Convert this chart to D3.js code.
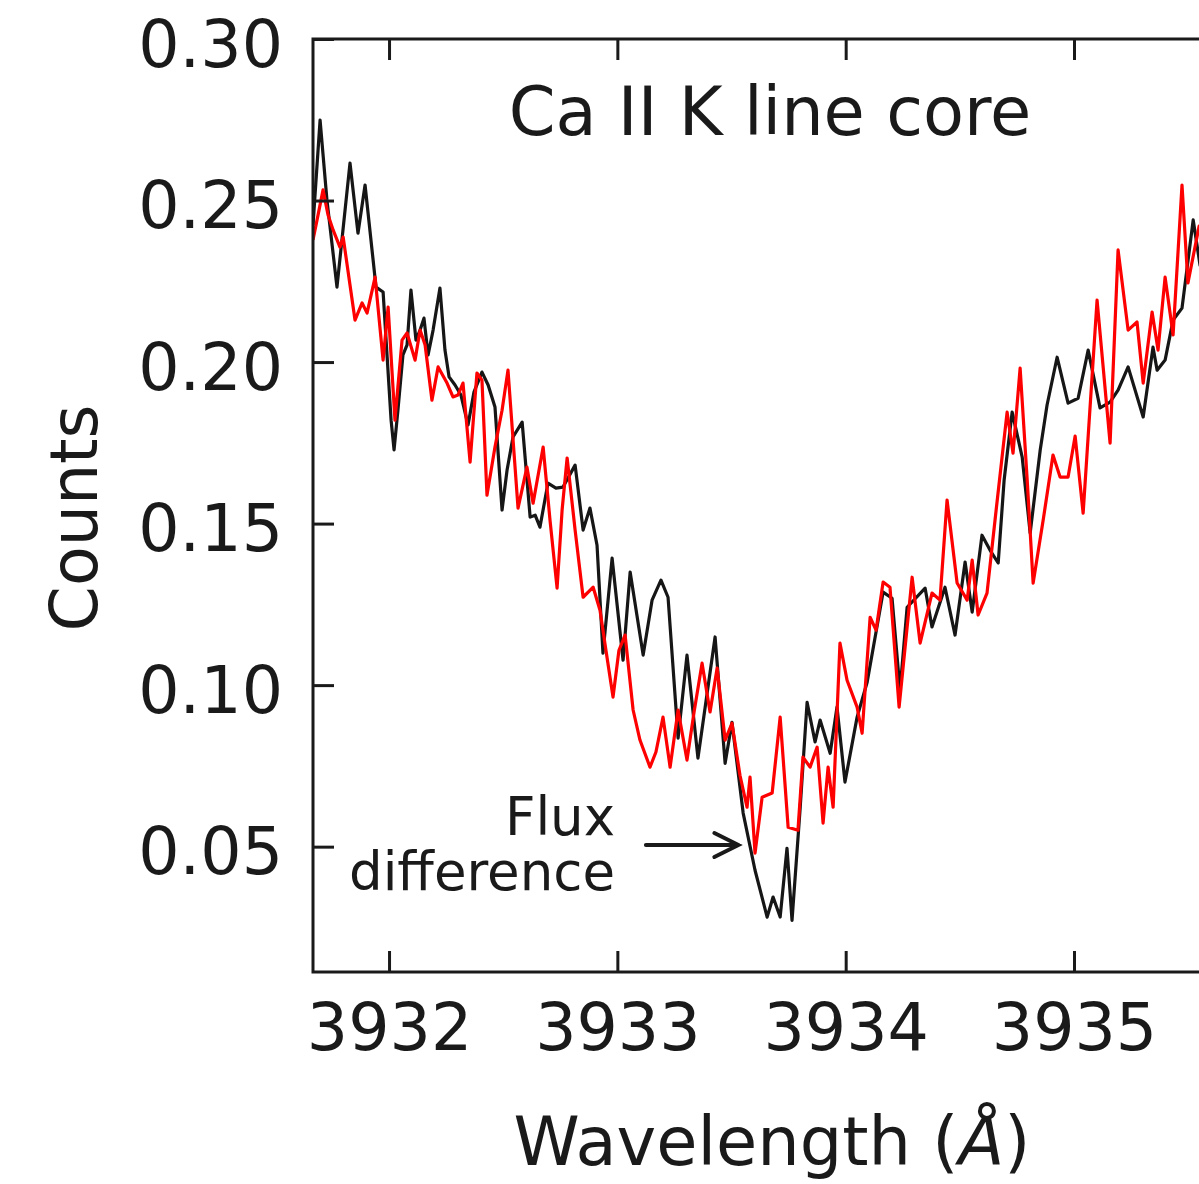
<!DOCTYPE html>
<html>
<head>
<meta charset="utf-8">
<script src="https://cdn.jsdelivr.net/npm/d3@7"></script>
<style>
  body { margin: 0; background: #fff; }
  text { font-family: "DejaVu Sans", sans-serif; fill: #1a1a1a; }
</style>
</head>
<body>
<svg id="chart"></svg>
<script>
// spectra: [wavelength (A), counts]
const blackSpectrum = [
  [3931.667,0.2424],[3931.698,0.2749],[3931.728,0.2502],[3931.772,0.2232],[3931.829,0.2616],[3931.864,0.2399],
  [3931.895,0.2548],[3931.943,0.2232],[3931.974,0.2217],[3932.009,0.1820],[3932.022,0.1728],[3932.039,0.1851],
  [3932.061,0.2022],[3932.079,0.2053],[3932.096,0.2223],[3932.118,0.2068],[3932.136,0.2099],[3932.153,0.2136],
  [3932.171,0.2022],[3932.193,0.2099],[3932.223,0.2229],[3932.245,0.2037],[3932.263,0.1954],[3932.289,0.1929],
  [3932.315,0.1898],[3932.346,0.1805],[3932.372,0.1907],[3932.407,0.1969],[3932.434,0.1929],[3932.464,0.1861],
  [3932.495,0.1542],[3932.517,0.1666],[3932.543,0.1768],[3932.583,0.1814],[3932.618,0.1520],[3932.640,0.1526],
  [3932.661,0.1489],[3932.696,0.1625],[3932.731,0.1610],[3932.762,0.1613],[3932.815,0.1681],[3932.850,0.1480],
  [3932.880,0.1548],[3932.911,0.1433],[3932.937,0.1099],[3932.977,0.1393],[3933.025,0.1077],[3933.056,0.1350],
  [3933.113,0.1093],[3933.152,0.1263],[3933.191,0.1325],[3933.222,0.1272],[3933.266,0.0836],[3933.305,0.1093],
  [3933.353,0.0774],[3933.389,0.0954],[3933.428,0.1149],[3933.472,0.0758],[3933.502,0.0885],[3933.551,0.0604],
  [3933.603,0.0427],[3933.656,0.0282],[3933.682,0.0344],[3933.713,0.0282],[3933.743,0.0495],[3933.765,0.0272],
  [3933.800,0.0613],[3933.831,0.0947],[3933.866,0.0824],[3933.888,0.0892],[3933.932,0.0789],[3933.962,0.0932],
  [3933.997,0.0700],[3934.050,0.0901],[3934.094,0.1009],[3934.164,0.1288],[3934.203,0.1269],[3934.238,0.0984],
  [3934.269,0.1241],[3934.348,0.1300],[3934.378,0.1180],[3934.435,0.1303],[3934.479,0.1155],[3934.523,0.1381],
  [3934.554,0.1226],[3934.597,0.1464],[3934.632,0.1418],[3934.668,0.1378],[3934.694,0.1635],[3934.729,0.1845],
  [3934.773,0.1706],[3934.808,0.1471],[3934.852,0.1728],[3934.882,0.1867],[3934.926,0.2015],[3934.974,0.1873],
  [3935.018,0.1888],[3935.062,0.2037],[3935.114,0.1858],[3935.158,0.1876],[3935.193,0.1913],[3935.237,0.1985],
  [3935.303,0.1830],[3935.346,0.2046],[3935.364,0.1975],[3935.399,0.2006],[3935.434,0.2130],[3935.473,0.2167],
  [3935.522,0.2440],[3935.552,0.2300],[3935.596,0.2347]
]
const redSpectrum = [
  [3931.667,0.2378],[3931.689,0.2455],[3931.711,0.2533],[3931.733,0.2455],[3931.755,0.2409],[3931.785,0.2356],
  [3931.799,0.2387],[3931.851,0.2130],[3931.882,0.2183],[3931.904,0.2152],[3931.939,0.2263],[3931.974,0.2006],
  [3931.996,0.2170],[3932.026,0.1820],[3932.057,0.2068],[3932.079,0.2090],[3932.114,0.2006],[3932.136,0.2099],
  [3932.158,0.2053],[3932.188,0.1882],[3932.215,0.1985],[3932.254,0.1935],[3932.280,0.1892],[3932.302,0.1898],
  [3932.324,0.1935],[3932.355,0.1690],[3932.385,0.1966],[3932.407,0.1944],[3932.429,0.1588],[3932.464,0.1737],
  [3932.495,0.1851],[3932.521,0.1975],[3932.565,0.1548],[3932.604,0.1675],[3932.631,0.1563],[3932.675,0.1737],
  [3932.705,0.1511],[3932.736,0.1300],[3932.758,0.1542],[3932.780,0.1703],[3932.815,0.1480],[3932.850,0.1272],
  [3932.894,0.1303],[3932.924,0.1232],[3932.950,0.1108],[3932.981,0.0963],[3933.007,0.1108],[3933.034,0.1155],
  [3933.069,0.0923],[3933.099,0.0830],[3933.143,0.0746],[3933.169,0.0793],[3933.200,0.0901],[3933.231,0.0746],
  [3933.266,0.0923],[3933.305,0.0768],[3933.336,0.0917],[3933.371,0.1068],[3933.406,0.0917],[3933.437,0.1053],
  [3933.472,0.0830],[3933.502,0.0882],[3933.537,0.0721],[3933.568,0.0622],[3933.581,0.0715],[3933.603,0.0480],
  [3933.634,0.0653],[3933.678,0.0666],[3933.713,0.0901],[3933.748,0.0560],[3933.791,0.0551],[3933.813,0.0777],
  [3933.844,0.0746],[3933.875,0.0808],[3933.901,0.0573],[3933.923,0.0746],[3933.945,0.0622],[3933.975,0.1130],
  [3934.006,0.1015],[3934.050,0.0932],[3934.072,0.0851],[3934.107,0.1210],[3934.133,0.1170],[3934.164,0.1319],
  [3934.194,0.1303],[3934.234,0.0932],[3934.291,0.1334],[3934.326,0.1130],[3934.378,0.1285],[3934.413,0.1263],
  [3934.444,0.1573],[3934.488,0.1316],[3934.532,0.1263],[3934.554,0.1387],[3934.580,0.1217],[3934.619,0.1285],
  [3934.659,0.1542],[3934.707,0.1845],[3934.733,0.1718],[3934.764,0.1981],[3934.795,0.1635],[3934.821,0.1316],
  [3934.865,0.1511],[3934.908,0.1712],[3934.939,0.1644],[3934.974,0.1644],[3935.005,0.1771],[3935.040,0.1532],
  [3935.101,0.2192],[3935.158,0.1749],[3935.193,0.2347],[3935.237,0.2099],[3935.276,0.2124],[3935.303,0.1935],
  [3935.342,0.2155],[3935.368,0.2037],[3935.399,0.2263],[3935.434,0.2084],[3935.473,0.2548],[3935.499,0.2245],
  [3935.548,0.2421],[3935.596,0.2378]
]

const xTicks = [3932, 3933, 3934, 3935]
const yTicks = [0.05, 0.10, 0.15, 0.20, 0.25, 0.30]
const titleText = "Ca II K line core"
const noteLines = ["Flux", "difference"]
const noteAnchor = [3932.99, 0.0536]      // right edge / baseline of first line
const arrowFrom = [3933.125, 0.0505]
const arrowTo = [3933.53, 0.0505]

const width = 1199, height = 1184
const margin = {left: 313, top: 39, right: -12, bottom: 212}

const svg = d3.select("#chart")
    .attr("width", width)
    .attr("height", height)

const x = d3.scaleLinear()
    .domain([3931.667, 3935.6])
    .range([margin.left, width - margin.right])
const y = d3.scaleLinear()
    .domain([0.0112, 0.30])
    .range([height - margin.bottom, margin.top])

svg.append("clipPath")
    .attr("id", "plot-clip")
  .append("rect")
    .attr("x", x.range()[0])
    .attr("y", y.range()[1])
    .attr("width", x.range()[1] - x.range()[0])
    .attr("height", y.range()[0] - y.range()[1])

const line = d3.line()
    .x(d => x(d[0]))
    .y(d => y(d[1]))

let plot = svg.append("g").attr("clip-path", "url(#plot-clip)")

plot.append("path")
    .datum(blackSpectrum)
    .attr("d", line)
    .attr("fill", "none")
    .attr("stroke", "#161616")
    .attr("stroke-width", 3.2)
    .attr("stroke-linejoin", "round")

plot.append("path")
    .datum(redSpectrum)
    .attr("d", line)
    .attr("fill", "none")
    .attr("stroke", "#ff0000")
    .attr("stroke-width", 3.2)
    .attr("stroke-linejoin", "round")

// axes, ticks pointing inward like matplotlib "in"
let styleAxis = (g) => {
  g.select(".domain").remove()
  g.selectAll(".tick line").attr("stroke", "#1a1a1a").attr("stroke-width", 3)
  g.selectAll(".tick text").style("font-size", "65px").attr("fill", "#1a1a1a")
}

svg.append("g")
    .attr("transform", `translate(0,${y.range()[0]})`)
    .call(d3.axisBottom(x).tickValues(xTicks).tickFormat(d3.format("d")).tickSizeInner(-21).tickPadding(32))
    .call(styleAxis)

svg.append("g")
    .attr("transform", `translate(0,${y.range()[1]})`)
    .call(d3.axisTop(x).tickValues(xTicks).tickFormat("").tickSizeInner(-21))
    .call(styleAxis)

svg.append("g")
    .attr("transform", `translate(${x.range()[0]},0)`)
    .call(d3.axisLeft(y).tickValues(yTicks).tickFormat(d3.format(".2f")).tickSizeInner(-21).tickPadding(30))
    .call(styleAxis)
    .call(g => g.selectAll(".tick text").attr("dy", "0.42em"))

// frame
svg.append("rect")
    .attr("x", x.range()[0])
    .attr("y", y.range()[1])
    .attr("width", x.range()[1] - x.range()[0])
    .attr("height", y.range()[0] - y.range()[1])
    .attr("fill", "none")
    .attr("stroke", "#1a1a1a")
    .attr("stroke-width", 3)

svg.append("text")
    .attr("x", 770)
    .attr("y", 135)
    .attr("text-anchor", "middle")
    .style("font-size", "67px")
    .text(titleText)

svg.append("text")
    .attr("transform", "translate(97,518)rotate(-90)")
    .attr("text-anchor", "middle")
    .style("font-size", "65px")
    .text("Counts")

let xl = svg.append("text")
    .attr("x", 772)
    .attr("y", 1165)
    .attr("text-anchor", "middle")
    .style("font-size", "67px")
xl.append("tspan").text("Wavelength (")
xl.append("tspan").style("font-style", "italic").text("Å")
xl.append("tspan").text(")")

// annotation
let note = svg.append("text")
    .attr("text-anchor", "end")
    .style("font-size", "53px")
noteLines.forEach((s, i) => {
  note.append("tspan")
      .attr("x", x(noteAnchor[0]))
      .attr("y", y(noteAnchor[1]) + i * 55)
      .text(s)
})

const ax1 = x(arrowFrom[0]), ay = y(arrowFrom[1]), ax2 = x(arrowTo[0])
svg.append("path")
    .attr("d", `M${ax1},${ay}L${ax2},${ay}M${ax2 - 24},${ay - 12}L${ax2},${ay}L${ax2 - 24},${ay + 12}`)
    .attr("fill", "none")
    .attr("stroke", "#1a1a1a")
    .attr("stroke-width", 4)
    .attr("stroke-linecap", "round")
</script>
</body>
</html>
